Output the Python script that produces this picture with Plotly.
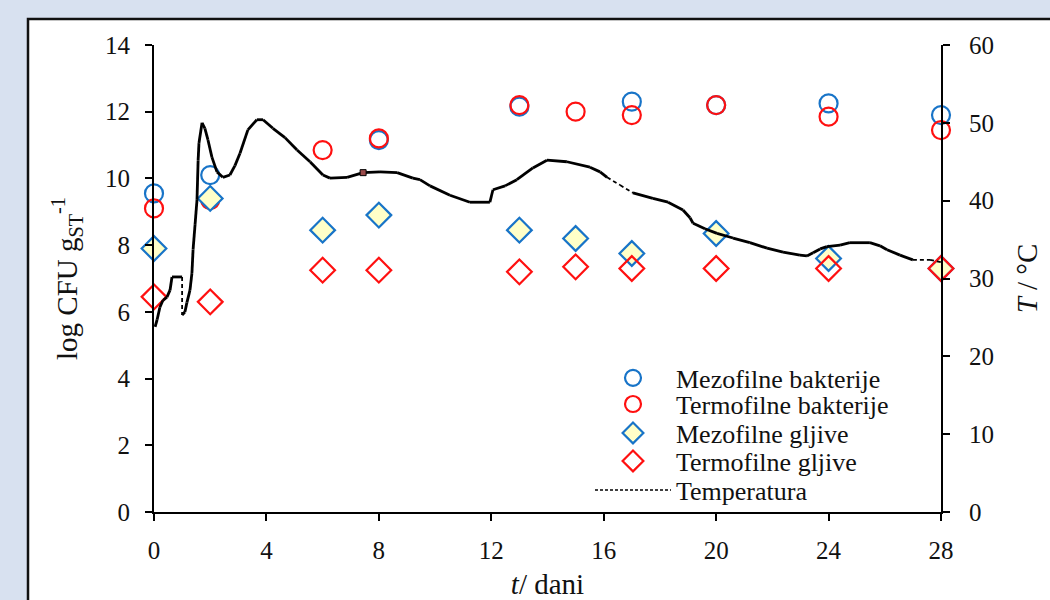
import plotly.graph_objects as go

# ---------------- data ----------------
mezo_bakt_t = [0, 2, 8, 13, 17, 20, 24, 28]
mezo_bakt = [9.55, 10.1, 11.15, 12.15, 12.3, 12.2, 12.25, 11.9]

termo_bakt_t = [0, 2, 6, 8, 13, 15, 17, 20, 24, 28]
termo_bakt = [9.1, 9.35, 10.85, 11.2, 12.2, 12.0, 11.9, 12.2, 11.85, 11.45]

mezo_glj_t = [0, 2, 6, 8, 13, 15, 17, 20, 24, 28]
mezo_glj = [7.9, 9.4, 8.45, 8.9, 8.45, 8.2, 7.75, 8.35, 7.6, 7.3]

termo_glj_t = [0, 2, 6, 8, 13, 15, 17, 20, 24, 28]
termo_glj = [6.45, 6.3, 7.25, 7.25, 7.2, 7.35, 7.3, 7.3, 7.3, 7.3]

temp_t = [0.04, 0.11, 0.21, 0.32, 0.46, 0.57, 0.64, 1.0, 1.0, 1.10, 1.17, 1.28,
          1.35, 1.39, 1.46, 1.53, 1.57, 1.60, 1.71, 1.81, 1.92, 2.06, 2.24, 2.45,
          2.70, 2.88, 3.06, 3.34, 3.66, 3.88, 4.23, 4.66, 5.09, 5.55, 6.01, 6.26,
          6.87, 7.44, 8.04, 8.65, 9.21, 9.46, 9.82, 10.53, 11.24, 11.95, 12.06,
          12.49, 12.91, 13.48, 13.98, 14.69, 15.51, 15.87, 16.12, 16.58, 17.04,
          17.75, 18.29, 18.82, 19.07, 19.18, 19.60, 20.03, 20.60, 21.20, 21.81,
          22.38, 22.98, 23.23, 23.45, 23.70, 23.94, 24.41, 24.76, 25.47, 25.83,
          26.08, 26.54, 27.00, 27.61, 28.0]
temp_v = [23.8, 24.7, 26.3, 27.2, 27.6, 28.5, 30.2, 30.2, 25.3, 25.7, 26.9, 28.5,
          30.7, 33.7, 36.9, 40.1, 45.2, 47.4, 50.0, 49.3, 47.8, 45.6, 43.7, 43.0,
          43.3, 44.5, 46.1, 49.1, 50.4, 50.4, 49.3, 48.1, 46.5, 45.0, 43.3, 42.9,
          43.0, 43.6, 43.7, 43.6, 42.9, 42.7, 41.9, 40.7, 39.8, 39.8, 41.4,
          41.9, 42.7, 44.2, 45.2, 45.0, 44.3, 43.7, 43.0, 42.0, 41.0,
          40.3, 39.8, 38.8, 37.8, 37.1, 36.4, 35.8, 35.2, 34.6, 33.9,
          33.4, 33.0, 32.9, 33.3, 33.8, 34.1, 34.3, 34.6, 34.6, 34.2,
          33.7, 33.0, 32.4, 32.4, 32.1]
dashed_spans = [(1.0, 1.0), (16.12, 17.04), (27.0, 28.0)]

marker_pt_t = [7.44]
marker_pt_v = [43.6]

x_ticks = [0, 4, 8, 12, 16, 20, 24, 28]
y_ticks = [0, 2, 4, 6, 8, 10, 12, 14]
y2_ticks = [0, 10, 20, 30, 40, 50, 60]

legend_names = ["Mezofilne bakterije", "Termofilne bakterije", "Mezofilne gljive",
                "Termofilne gljive", "Temperatura"]

# ---------------- styling ----------------
FONT = "Liberation Serif"
BLUE = "#1874C8"
RED = "#FF1010"
YELLOW = "#FFFFC8"
TXT = "#111111"

# split temperature into solid / dashed pieces
solid_x, solid_y, dash_x, dash_y = [], [], [], []
for i in range(len(temp_t) - 1):
    a, b = temp_t[i], temp_t[i + 1]
    is_dash = any(lo <= a and b <= hi for lo, hi in dashed_spans)
    tx, ty = (dash_x, dash_y) if is_dash else (solid_x, solid_y)
    tx += [a, b, None]
    ty += [temp_v[i], temp_v[i + 1], None]

fig = go.Figure()
fig.add_trace(go.Scatter(x=mezo_bakt_t, y=mezo_bakt, mode="markers", name=legend_names[0], legend="legend",
                         marker=dict(symbol="circle-open", size=18, color=BLUE, line=dict(width=2.2)),
                         cliponaxis=False))
fig.add_trace(go.Scatter(x=termo_bakt_t, y=termo_bakt, mode="markers", name=legend_names[1], legend="legend2",
                         marker=dict(symbol="circle-open", size=18, color=RED, line=dict(width=2.2)),
                         cliponaxis=False))
fig.add_trace(go.Scatter(x=mezo_glj_t, y=mezo_glj, mode="markers", name=legend_names[2], legend="legend3",
                         marker=dict(symbol="diamond", size=19, color=YELLOW, line=dict(width=2.2, color=BLUE)),
                         cliponaxis=False))
fig.add_trace(go.Scatter(x=termo_glj_t, y=termo_glj, mode="markers", name=legend_names[3], legend="legend4",
                         marker=dict(symbol="diamond-open", size=19, color=RED, line=dict(width=2.2)),
                         cliponaxis=False))
fig.add_trace(go.Scatter(x=solid_x, y=solid_y, mode="lines", yaxis="y2", showlegend=False,
                         line=dict(color="black", width=2.8), hoverinfo="skip", cliponaxis=False))
fig.add_trace(go.Scatter(x=dash_x, y=dash_y, mode="lines", yaxis="y2", showlegend=False,
                         line=dict(color="black", width=1.8, dash="4px,3px"), cliponaxis=False))
fig.add_trace(go.Scatter(x=marker_pt_t, y=marker_pt_v, mode="markers", yaxis="y2", showlegend=False,
                         marker=dict(symbol="square", size=6, color="#9A4A4A", line=dict(width=1, color="black"))))
fig.add_trace(go.Scatter(x=[None], y=[None], mode="lines", yaxis="y2", name=legend_names[4], legend="legend5",
                         line=dict(color="black", width=1.5, dash="3px,2px")))

axis_common = dict(showline=True, linecolor="black", linewidth=2, ticks="outside", ticklen=7,
                   tickwidth=1.8, tickcolor="black", showgrid=False, zeroline=False,
                   tickfont=dict(family=FONT, size=25, color=TXT))

# one legend box per entry so rows can be spaced like the original
leg_common = dict(x=0.554, xanchor="left", yanchor="middle", bgcolor="rgba(0,0,0,0)",
                  font=dict(family=FONT, size=26, color=TXT), itemwidth=76, borderwidth=0)
row_y = [0.287, 0.231, 0.169, 0.109, 0.047]

TITLE_FONT = dict(family=FONT, size=29, color=TXT)

fig.update_layout(
    width=1050, height=600,
    margin=dict(l=154, r=109, t=45, b=88),
    paper_bgcolor="#D8E1F0",
    plot_bgcolor="rgba(0,0,0,0)",
    font=dict(family=FONT, size=25, color=TXT),
    xaxis=dict(range=[0, 28], tickvals=x_ticks, ticklabelstandoff=8, automargin=False,
               title=dict(text="<i>t</i>/ dani", font=TITLE_FONT, standoff=15),
               **axis_common),
    yaxis=dict(range=[0, 14], tickvals=y_ticks, ticklabelstandoff=10, automargin=False,
               title=dict(text="log CFU g<sub>ST</sub><sup>-1</sup>", font=TITLE_FONT, standoff=19),
               **axis_common),
    yaxis2=dict(range=[0, 60], tickvals=y2_ticks, overlaying="y", side="right",
                ticklabelstandoff=14, automargin=False,
                title=dict(text="<i>T</i> / °C", font=TITLE_FONT, standoff=24),
                **axis_common),
    legend=dict(y=row_y[0], **leg_common),
    legend2=dict(y=row_y[1], **leg_common),
    legend3=dict(y=row_y[2], **leg_common),
    legend4=dict(y=row_y[3], **leg_common),
    legend5=dict(y=row_y[4], **leg_common),
    shapes=[dict(type="rect", xref="paper", yref="paper", x0=-0.1601, x1=1.16, y0=-0.22, y1=1.0557,
                 fillcolor="white", line=dict(color="#111", width=2.5), layer="below")],
    showlegend=True,
)

fig.write_html("out.html")
